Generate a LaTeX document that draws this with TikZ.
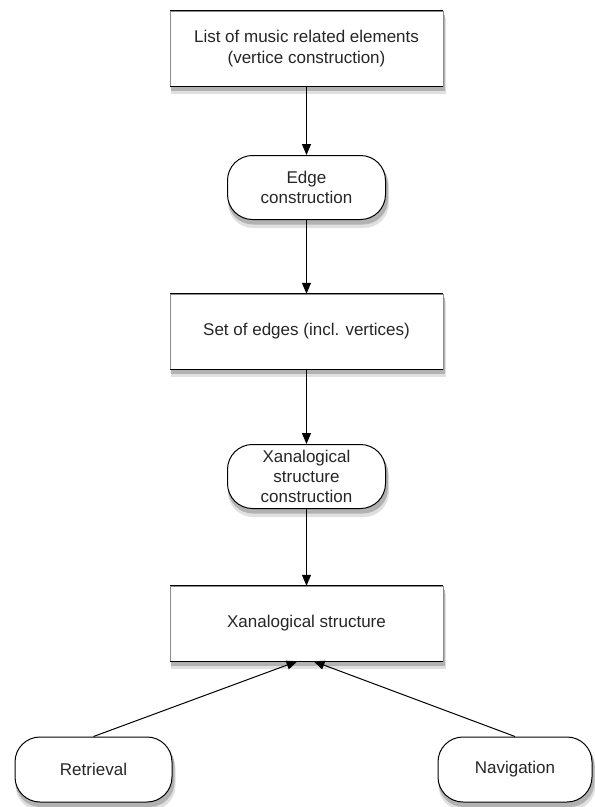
\documentclass[tikz,border=0pt]{standalone}
\usepackage{fontspec}
\setmainfont{Liberation Sans}
\usetikzlibrary{positioning, arrows.meta, backgrounds, calc}

\begin{document}
\begin{tikzpicture}[
    x=1pt, y=-1pt,
    box/.style={draw=black!45, fill=white, minimum width=273pt,
      minimum height=75pt, align=center, text=black!85,
      font=\fontsize{17}{21}\selectfont},
    proc/.style={draw, line width=1pt, rounded corners=25pt, fill=white,
      minimum width=158pt, minimum height=64pt, align=center, text=black!85,
      font=\fontsize{17}{20}\selectfont},
    >={Triangle[length=11pt, width=9pt]}
  ]
    \useasboundingbox (0,0) rectangle (595,807);

    \node[box]  (elems)   at (306.5,48.5)  {List of music related elements\\(vertice construction)};
    \node[proc] (edgecon) at (306.5,187.5) {Edge\\construction};
    \node[box]  (edges)   at (306.5,331.5) {Set of edges (incl. vertices)};
    \node[proc] (xcon)    at (306.5,476.5) {Xanalogical\\structure\\construction};
    \node[box]  (xstruct) at (306.5,623.5) {Xanalogical structure};
    \node[proc, minimum width=157pt, minimum height=65pt] (retr) at (93.5,769.5) {Retrieval};
    \node[proc, minimum width=154pt, minimum height=65pt] (navi) at (515,769.5) {Navigation};

    % soft shadows under the nodes
    \begin{scope}[on background layer]
      \foreach \n/\r in {elems/0pt, edges/0pt, xstruct/0pt, edgecon/25pt, xcon/25pt, retr/25pt, navi/25pt} {
        \fill[black!12, rounded corners=\r] ($(\n.north west)+(1,7)$) rectangle ($(\n.south east)+(3,8)$);
        \fill[black!30, rounded corners=\r] ($(\n.north west)+(1,4)$) rectangle ($(\n.south east)+(2,4.5)$);
      }
    \end{scope}

    % black top and bottom edges of the boxes
    \foreach \n in {elems, edges, xstruct} {
      \draw[line width=1.3pt] (\n.north west) -- (\n.north east);
      \draw[line width=1.3pt] (\n.south west) -- (\n.south east);
    }

    \draw[->, line width=1pt] (elems) -- (edgecon);
    \draw[->, line width=1pt] (edgecon) -- (edges);
    \draw[->, line width=1pt] (edges) -- (xcon);
    \draw[->, line width=1pt] (xcon) -- (xstruct);
    \draw[->, line width=1pt] (retr.north) -- ([xshift=-9pt]xstruct.south);
    \draw[->, line width=1pt] (navi.north) -- ([xshift=7pt]xstruct.south);
  \end{tikzpicture}
\end{document}
